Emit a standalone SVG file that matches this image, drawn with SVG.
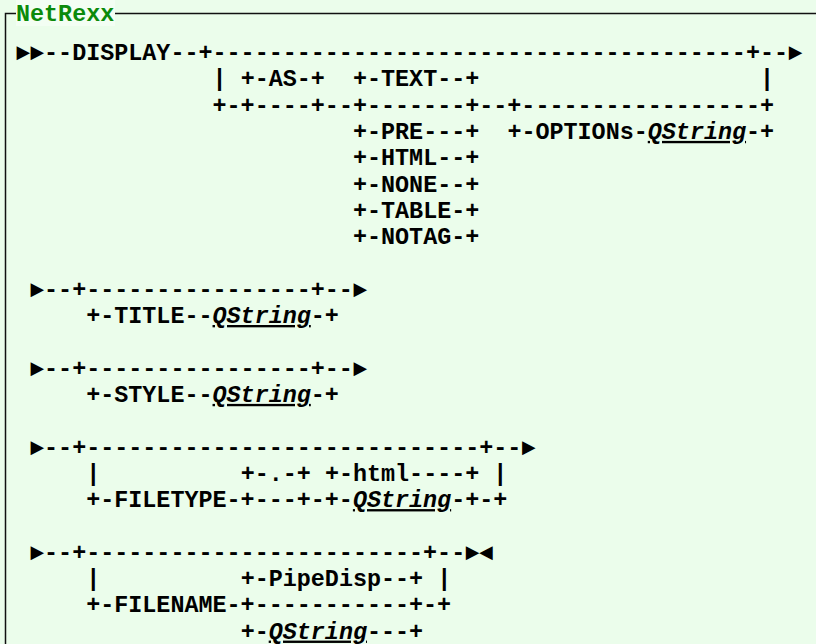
<svg xmlns="http://www.w3.org/2000/svg" width="816" height="644" viewBox="0 0 816 644">
<style>
.t{font-family:"Liberation Mono","DejaVu Sans Mono",monospace;font-size:23.4px;font-weight:bold;fill:#000}
.q{font-style:italic;text-decoration:underline}
.ttl{font-family:"Liberation Mono","DejaVu Sans Mono",monospace;font-size:23.4px;font-weight:bold;fill:#0b8a0b}
</style>
<rect x="0" y="0" width="816" height="644" fill="#ebfdeb"/>
<g id="frame">
<path d="M5.5,644 V13.5 H816" fill="none" stroke="#111" stroke-width="1.5"/>
<rect x="16" y="0" width="99" height="26" fill="#f3fef3"/>
<text class="ttl" x="16" y="21">NetRexx</text>
</g>
<g id="display-block" class="t">
<text x="16" y="60">►►</text>
<text x="44.08" y="60">--DISPLAY--+--------------------------------------+--</text>
<text x="788.2" y="60">►</text>
<text x="212.56" y="86.3">|</text>
<text x="240.64" y="86.3">+-AS-+</text>
<text x="352.96" y="86.3">+-TEXT--+</text>
<text x="760.12" y="86.3">|</text>
<text x="212.56" y="112.6">+-+----+--+-------+--+-----------------+</text>
<text x="352.96" y="138.9">+-PRE---+</text>
<text x="507.4" y="138.9">+-OPTIONs-<tspan class="q">QString</tspan>-+</text>
<text x="352.96" y="165.2">+-HTML--+</text>
<text x="352.96" y="191.5">+-NONE--+</text>
<text x="352.96" y="217.8">+-TABLE-+</text>
<text x="352.96" y="244.1">+-NOTAG-+</text>
</g>
<g id="title-block" class="t">
<text x="30.04" y="296.7">►</text>
<text x="44.08" y="296.7">--+----------------+--</text>
<text x="352.96" y="296.7">►</text>
<text x="86.2" y="323">+-TITLE--<tspan class="q">QString</tspan>-+</text>
</g>
<g id="style-block" class="t">
<text x="30.04" y="375.6">►</text>
<text x="44.08" y="375.6">--+----------------+--</text>
<text x="352.96" y="375.6">►</text>
<text x="86.2" y="401.9">+-STYLE--<tspan class="q">QString</tspan>-+</text>
</g>
<g id="filetype-block" class="t">
<text x="30.04" y="454.5">►</text>
<text x="44.08" y="454.5">--+----------------------------+--</text>
<text x="521.44" y="454.5">►</text>
<text x="86.2" y="480.8">|</text>
<text x="240.64" y="480.8">+-.-+</text>
<text x="324.88" y="480.8">+-html----+</text>
<text x="493.36" y="480.8">|</text>
<text x="86.2" y="507.1">+-FILETYPE-+---+-+-<tspan class="q">QString</tspan>-+-+</text>
</g>
<g id="filename-block" class="t">
<text x="30.04" y="559.7">►</text>
<text x="44.08" y="559.7">--+------------------------+--</text>
<text x="465.28" y="559.7">►◄</text>
<text x="86.2" y="586">|</text>
<text x="240.64" y="586">+-PipeDisp--+</text>
<text x="437.2" y="586">|</text>
<text x="86.2" y="612.3">+-FILENAME-+-----------+-+</text>
<text x="240.64" y="638.6">+-<tspan class="q">QString</tspan>---+</text>
</g>
</svg>
